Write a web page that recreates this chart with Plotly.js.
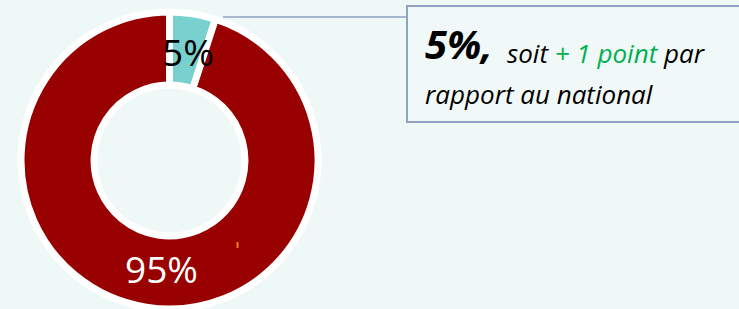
<!DOCTYPE html>
<html>
<head>
<meta charset="utf-8">
<script src="https://cdn.plot.ly/plotly-3.0.1.min.js"></script>
<style>
  html, body { margin: 0; padding: 0; background: #eef8f6; overflow: hidden; }
  #chart { width: 739px; height: 309px; }
</style>
</head>
<body>
<div id="chart"></div>
<script>
// ---- data ----
const categories = ["Part", "Autre"];
const values = [5, 95];
const sliceColors = ["#79d1cf", "#990000"];
const labelColors = ["#000000", "#ffffff"];
const calloutValue = "5%,";
const calloutLine1 = ["soit ", "+ 1 point", " par"];
const calloutLine2 = "rapport au national";

// ---- helpers ----
const W = 739, H = 309;
const px = x => x / W;
const py = y => 1 - y / H;

const total = values.reduce((a, b) => a + b, 0);
const pctText = values.map(v => Math.round(v / total * 100) + "%");

const trace = {
  type: "pie",
  labels: categories,
  values: values,
  sort: false,
  direction: "clockwise",
  rotation: 0,
  hole: 0.508,
  textinfo: "none",
  hoverinfo: "none",
  marker: { colors: sliceColors, line: { color: "#ffffff", width: 7 } },
  domain: { x: [px(20.5), px(318.5)], y: [0, (309 - 12) / H] },
  showlegend: false
};

const font = "'Open Sans', 'DejaVu Sans', sans-serif";

const annotations = [
  { x: px(188), y: py(51), text: pctText[0], font: { family: font, size: 37, color: labelColors[0] } },
  { x: px(161), y: py(268), text: pctText[1], font: { family: font, size: 37, color: labelColors[1] } },
  { x: px(423), y: py(44), xanchor: "left", text: "<b><i>" + calloutValue + "</i></b>",
    font: { family: font, size: 40, color: "#000000" } },
  { x: px(505), y: py(53), xanchor: "left",
    text: "<i>" + calloutLine1[0] + "<span style='color:#00b050'>" + calloutLine1[1] + "</span>" + calloutLine1[2] + "</i>",
    font: { family: font, size: 26, color: "#000000" } },
  { x: px(423), y: py(94), xanchor: "left", text: "<i>" + calloutLine2 + "</i>",
    font: { family: font, size: 26, color: "#000000" } }
].map(a => Object.assign({ xref: "paper", yref: "paper", showarrow: false, xanchor: "center", yanchor: "middle" }, a));

const shapes = [
  { type: "line", xref: "paper", yref: "paper", x0: px(223), x1: px(407), y0: py(17), y1: py(17),
    line: { color: "#8fa2c0", width: 1.5 } },
  { type: "rect", xref: "paper", yref: "paper", x0: px(407), x1: px(760), y0: py(6), y1: py(122),
    line: { color: "#8fa2c0", width: 2 }, fillcolor: "#f0f9f8" },
  { type: "line", xref: "paper", yref: "paper", x0: px(237.5), x1: px(237.5), y0: py(242), y1: py(248),
    line: { color: "#e8801f", width: 2 } }
];

const layout = {
  width: W, height: H,
  margin: { l: 0, r: 0, t: 0, b: 0 },
  paper_bgcolor: "#eef8f6",
  plot_bgcolor: "#eef8f6",
  annotations: annotations,
  shapes: shapes,
  showlegend: false
};

Plotly.newPlot("chart", [trace], layout, { displayModeBar: false, staticPlot: true });
</script>
</body>
</html>
